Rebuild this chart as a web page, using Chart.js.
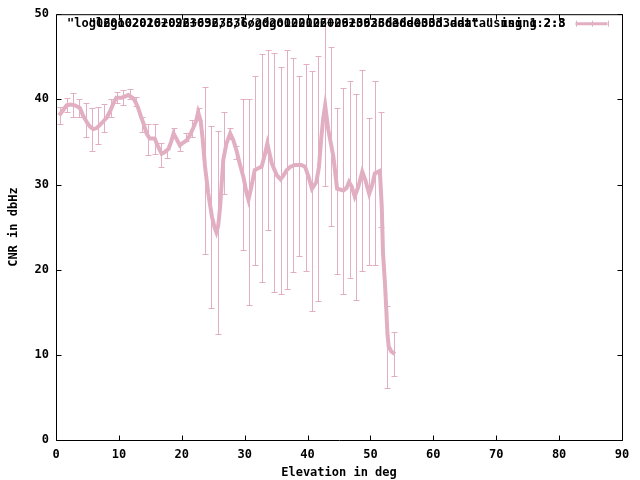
<!DOCTYPE html>
<html>
<head>
<meta charset="utf-8">
<script src="https://cdn.jsdelivr.net/npm/chart.js@4.4.1/dist/chart.umd.min.js"></script>
<style>
html,body{margin:0;padding:0;background:#fff;}
#c{display:block;}
</style>
</head>
<body>
<canvas id="c" width="640" height="480"></canvas>
<script>
// ---- data ----
const elevation = [0.5,1.0,1.7,2.3,3.0,3.8,4.3,5.0,5.4,5.9,6.4,7.0,7.5,8.1,8.6,9.1,9.6,10.5,11.5,12.3,12.7,13.1,13.5,13.9,14.4,14.9,15.7,16.2,16.8,17.3,17.9,18.3,18.7,19.2,19.7,20.2,20.8,21.3,21.8,22.3,22.6,23.0,23.3,23.7,24.2,24.8,25.2,25.5,25.8,26.1,26.6,27.1,27.7,28.2,28.7,29.2,29.8,30.3,30.6,31.0,31.6,32.7,33.2,33.6,34.0,34.3,35.1,35.7,36.2,36.7,37.3,38.0,39.0,39.6,40.2,40.7,41.4,41.8,42.2,42.5,42.8,43.3,44.1,44.7,45.7,46.2,46.6,47.0,47.5,48.1,48.7,49.2,49.8,50.3,50.7,51.5,51.8,52.0,52.3,52.5,52.7,52.9,53.3,53.9];
const cnr = [38.1,38.6,39.3,39.4,39.3,39.0,38.1,37.2,36.8,36.5,36.6,37.0,37.4,37.9,38.6,39.5,40.2,40.2,40.5,40.1,39.6,38.9,38.0,37.2,36.0,35.4,35.4,34.5,33.6,33.8,34.2,35.0,36.0,35.3,34.6,34.9,35.2,35.8,36.6,37.5,38.5,37.5,35.5,32.1,29.0,26.2,25.0,24.4,25.2,27.4,32.9,34.8,36.0,35.2,34.0,32.5,30.9,29.0,28.2,29.5,31.7,32.1,33.5,34.8,33.5,32.5,31.1,30.6,31.1,31.7,32.1,32.3,32.3,32.1,30.8,29.5,30.3,32.0,35.6,37.8,39.3,36.4,33.3,29.5,29.3,29.6,30.3,29.8,28.6,29.8,31.5,30.5,28.9,30.0,31.3,31.6,27.4,21.9,18.5,15.6,12.5,11.0,10.4,10.1];

const errElevation = [0.7,1.7,2.7,3.7,4.7,5.7,6.7,7.7,8.7,9.7,10.7,11.7,12.7,13.7,14.7,15.7,16.7,17.7,18.7,19.7,20.7,21.7,22.7,23.7,24.7,25.7,26.7,27.7,28.7,29.7,30.7,31.7,32.7,33.7,34.7,35.7,36.7,37.7,38.7,39.7,40.7,41.7,42.7,43.7,44.7,45.7,46.7,47.7,48.7,49.7,50.7,51.7,52.7,53.7];
const errLow  = [37.1,38.5,37.9,37.9,35.6,33.9,34.8,36.2,37.9,39.6,39.3,40.1,39.2,36.2,33.5,33.6,32.1,33.1,35.6,33.9,35.1,35.6,37.6,21.8,15.5,12.4,28.9,35.3,33.0,22.3,15.9,20.6,18.6,24.7,17.4,17.1,17.7,19.7,21.6,19.8,15.2,16.3,29.8,25.1,19.5,17.1,19.0,16.4,19.8,20.5,20.5,25.0,6.1,7.5];
const errHigh = [39.1,40.2,40.7,40.0,39.6,39.0,39.1,39.4,40.1,40.9,41.1,41.2,40.3,37.9,37.1,37.1,34.9,34.2,36.6,34.9,36.1,37.6,39.0,41.4,36.9,36.3,38.5,36.6,34.5,40.0,40.0,42.7,45.3,45.8,45.4,43.8,45.8,44.8,42.7,44.1,43.3,45.1,49.6,46.1,39.0,41.3,42.1,40.6,43.5,37.8,42.2,38.5,15.7,12.7];

const xTicks = [0,10,20,30,40,50,60,70,80,90];
const yTicks = [0,10,20,30,40,50];
const xTitle = "Elevation in deg";
const yTitle = "CNR in dbHz";
const legendTextA = "\"log020102026+0923636/3/log020102026+0923636dede0303.dat\" using 1:2:3";
const legendTextB = "\"l6go020102026+0923636/2dgo020102026+0923636de03d3adata\" using 2:8";

// ---- style ----
const PINK = '#e2afc2';
const FONT = '"DejaVu Sans Mono", monospace';

const errorBarPlugin = {
  id: 'errorBars',
  beforeDatasetsDraw(chart) {
    const {ctx, chartArea, scales} = chart;
    ctx.save();
    ctx.beginPath();
    ctx.rect(chartArea.left, chartArea.top, chartArea.right - chartArea.left, chartArea.bottom - chartArea.top);
    ctx.clip();
    ctx.strokeStyle = PINK;
    ctx.lineWidth = 1;
    errElevation.forEach((e, i) => {
      const x = Math.round(scales.x.getPixelForValue(e)) + 0.5;
      const y1 = Math.round(scales.y.getPixelForValue(errLow[i])) + 0.5;
      const y2 = Math.round(scales.y.getPixelForValue(errHigh[i])) + 0.5;
      ctx.beginPath();
      ctx.moveTo(x, y1); ctx.lineTo(x, y2);
      ctx.moveTo(x - 3, y1); ctx.lineTo(x + 3, y1);
      ctx.moveTo(x - 3, y2); ctx.lineTo(x + 3, y2);
      ctx.stroke();
    });
    ctx.restore();
  }
};

const framePlugin = {
  id: 'frame',
  afterDraw(chart) {
    const {ctx, chartArea, scales} = chart;
    const L = chartArea.left + 0.5, R = chartArea.right + 0.5, T = chartArea.top + 0.5, B = chartArea.bottom + 0.5;
    ctx.save();
    ctx.strokeStyle = '#000';
    ctx.lineWidth = 1;
    ctx.beginPath();
    ctx.rect(L, T, R - L, B - T);
    const tl = 5;
    xTicks.forEach(v => {
      const x = Math.round(scales.x.getPixelForValue(v)) + 0.5;
      ctx.moveTo(x, B); ctx.lineTo(x, B - tl);
      ctx.moveTo(x, T); ctx.lineTo(x, T + tl);
    });
    yTicks.forEach(v => {
      const y = Math.round(scales.y.getPixelForValue(v)) + 0.5;
      ctx.moveTo(L, y); ctx.lineTo(L + tl, y);
      ctx.moveTo(R, y); ctx.lineTo(R - tl, y);
    });
    ctx.stroke();

    // key
    const ky = T + 9;
    const textRight = R - 57;
    ctx.font = 'bold 12px ' + FONT;
    ctx.fillStyle = '#000';
    ctx.textAlign = 'right';
    ctx.textBaseline = 'middle';
    ctx.fillText(legendTextA, textRight, ky);
    ctx.fillText(legendTextB, textRight, ky);
    const sx1 = R - 47, sx2 = R - 15;
    ctx.strokeStyle = PINK;
    ctx.lineWidth = 3;
    ctx.beginPath();
    ctx.moveTo(sx1, ky); ctx.lineTo(sx2, ky);
    ctx.stroke();
    ctx.lineWidth = 1;
    ctx.beginPath();
    [sx1, sx2].forEach(x => { ctx.moveTo(Math.round(x) + 0.5, ky - 3); ctx.lineTo(Math.round(x) + 0.5, ky + 3); });
    const mx = Math.round((sx1 + sx2) / 2) + 0.5;
    ctx.moveTo(mx, ky - 3); ctx.lineTo(mx, ky + 3);
    ctx.stroke();
    ctx.restore();
  }
};

new Chart(document.getElementById('c'), {
  type: 'line',
  data: {
    datasets: [{
      data: elevation.map((x, i) => ({x: x, y: cnr[i]})),
      borderColor: PINK,
      backgroundColor: PINK,
      borderWidth: 4,
      pointRadius: 0,
      tension: 0,
      fill: false
    }]
  },
  options: {
    responsive: false,
    animation: false,
    devicePixelRatio: 1,
    layout: {padding: {top: 14, right: 18, left: 0, bottom: 0}},
    plugins: {legend: {display: false}, tooltip: {enabled: false}},
    scales: {
      x: {
        type: 'linear', min: 0, max: 90,
        afterBuildTicks: s => { s.ticks = xTicks.map(v => ({value: v})); },
        afterFit: s => { s.height = 40; },
        grid: {display: false, drawTicks: false},
        border: {display: false},
        ticks: {color: '#000', font: {family: FONT, size: 12, weight: 'bold'}, padding: 8, maxRotation: 0},
        title: {display: true, text: xTitle, color: '#000', font: {family: FONT, size: 12, weight: 'bold'}, padding: 0}
      },
      y: {
        type: 'linear', min: 0, max: 50,
        afterBuildTicks: s => { s.ticks = yTicks.map(v => ({value: v})); },
        afterFit: s => { s.width = 56; },
        grid: {display: false, drawTicks: false},
        border: {display: false},
        ticks: {color: '#000', font: {family: FONT, size: 12, weight: 'bold'}, padding: 7},
        title: {display: true, text: yTitle, color: '#000', font: {family: FONT, size: 12, weight: 'bold'}, padding: 7}
      }
    }
  },
  plugins: [errorBarPlugin, framePlugin]
});
</script>
</body>
</html>
